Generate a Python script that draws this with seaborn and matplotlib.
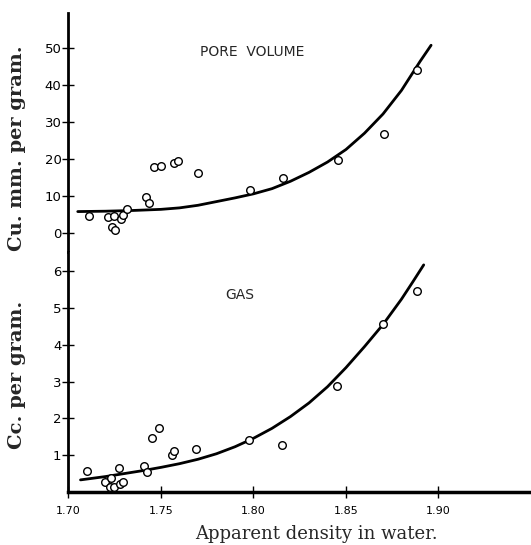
import matplotlib
matplotlib.use("Agg")
import matplotlib.pyplot as plt
import seaborn as sns
import pandas as pd

# ---- data ----
pore_x = [1.7113, 1.7213, 1.7244, 1.7235, 1.7254, 1.7285, 1.7294, 1.7317,
          1.7421, 1.7434, 1.7461, 1.7500, 1.7570, 1.7590, 1.7699, 1.7982,
          1.8161, 1.8459, 1.8705, 1.8885]
pore_y = [4.7, 4.2, 4.5, 1.7, 0.8, 3.8, 4.9, 6.5,
          9.8, 8.1, 17.9, 18.1, 18.9, 19.4, 16.3, 11.6,
          14.9, 19.7, 26.7, 44.2]

pore_curve_x = [1.705, 1.72, 1.735, 1.75, 1.76, 1.77, 1.78, 1.79, 1.80,
                1.81, 1.82, 1.83, 1.84, 1.85, 1.86, 1.87, 1.88, 1.89, 1.896]
pore_curve_y = [5.8, 5.9, 6.1, 6.4, 6.8, 7.5, 8.5, 9.5, 10.6,
                12.0, 14.0, 16.4, 19.2, 22.6, 27.0, 32.2, 38.6, 46.4, 50.8]

gas_x = [1.7100, 1.7272, 1.7199, 1.7229, 1.7226, 1.7244, 1.7280, 1.7295,
         1.7410, 1.7423, 1.7452, 1.7491, 1.7560, 1.7572, 1.7688, 1.7973,
         1.8154, 1.8454, 1.8702, 1.8885]
gas_y = [0.57, 0.66, 0.28, 0.38, 0.14, 0.13, 0.22, 0.27,
         0.70, 0.54, 1.46, 1.75, 1.00, 1.12, 1.16, 1.41,
         1.29, 2.88, 4.57, 5.47]

gas_curve_x = [1.7065, 1.72, 1.73, 1.74, 1.75, 1.76, 1.77, 1.78, 1.79, 1.80,
               1.81, 1.82, 1.83, 1.84, 1.85, 1.86, 1.87, 1.88, 1.886, 1.892]
gas_curve_y = [0.33, 0.42, 0.50, 0.58, 0.67, 0.77, 0.89, 1.04, 1.23, 1.46,
               1.73, 2.05, 2.42, 2.86, 3.38, 3.95, 4.55, 5.24, 5.70, 6.17]

x_ticks = [1.70, 1.75, 1.80, 1.85, 1.90]
x_ticklabels = ["1.70", "1.75", "1.80", "1.85", "1.90"]
pore_ticks = [0, 10, 20, 30, 40, 50]
gas_ticks = [1, 2, 3, 4, 5, 6]

pore_df = pd.DataFrame({"x": pore_x, "y": pore_y})
pore_curve_df = pd.DataFrame({"x": pore_curve_x, "y": pore_curve_y})
gas_df = pd.DataFrame({"x": gas_x, "y": gas_y})
gas_curve_df = pd.DataFrame({"x": gas_curve_x, "y": gas_curve_y})

sns.set_style("ticks")
plt.rcParams["font.family"] = ["DejaVu Sans"]

fig = plt.figure(figsize=(5.31, 5.45), dpi=100)
L, R = 0.129, 1.0
ax_top = fig.add_axes([L, 0.5376, R - L, 0.976 - 0.5376])
ax_bot = fig.add_axes([L, 0.0972, R - L, 0.5376 - 0.0972])

for ax, pts, crv in ((ax_top, pore_df, pore_curve_df), (ax_bot, gas_df, gas_curve_df)):
    sns.lineplot(data=crv, x="x", y="y", ax=ax, color="black", linewidth=2.0,
                 sort=False, estimator=None)
    sns.scatterplot(data=pts, x="x", y="y", ax=ax, s=30, marker="o",
                    facecolor="white", edgecolor="black", linewidth=1.0, zorder=3)
    ax.set_xlim(1.70, 1.95)
    ax.set_xlabel("")
    ax.set_ylabel("")
    for s in ("top", "right"):
        ax.spines[s].set_visible(False)
    ax.spines["left"].set_linewidth(2.0)
    ax.spines["left"].set_color("black")
    ax.tick_params(axis="y", left=True, direction="inout", length=8, width=1.0,
                   labelsize=9.5, pad=1, colors="black")

ax_top.spines["bottom"].set_visible(False)
ax_top.set_ylim(-5.14, 59.5)
ax_top.set_yticks(pore_ticks)
ax_top.set_xticks([])
ax_top.tick_params(axis="x", bottom=False)

ax_bot.set_ylim(0, 6.52)
ax_bot.set_yticks(gas_ticks)
ax_bot.set_xticks(x_ticks)
ax_bot.set_xticklabels(x_ticklabels)
ax_bot.spines["bottom"].set_linewidth(2.5)
ax_bot.spines["bottom"].set_color("black")
ax_bot.tick_params(axis="x", bottom=True, direction="inout", length=8, width=1.0,
                   labelsize=8, pad=6, colors="black")

ax_top.text(0.397, 0.837, "PORE  VOLUME", transform=ax_top.transAxes,
            ha="center", va="center", fontsize=10, family="DejaVu Sans")
ax_bot.text(0.371, 0.821, "GAS", transform=ax_bot.transAxes,
            ha="center", va="center", fontsize=10, family="DejaVu Sans")

fig.text(0.032, 0.728, "Cu. mm. per gram.", rotation=90, ha="center", va="center",
         fontsize=14, fontweight="bold", family="DejaVu Serif")
fig.text(0.032, 0.312, "Cc. per gram.", rotation=90, ha="center", va="center",
         fontsize=14, fontweight="bold", family="DejaVu Serif")
fig.text(0.596, 0.020, "Apparent density in water.", ha="center", va="center",
         fontsize=13, family="DejaVu Serif")

fig.savefig("out.png", dpi=100)
